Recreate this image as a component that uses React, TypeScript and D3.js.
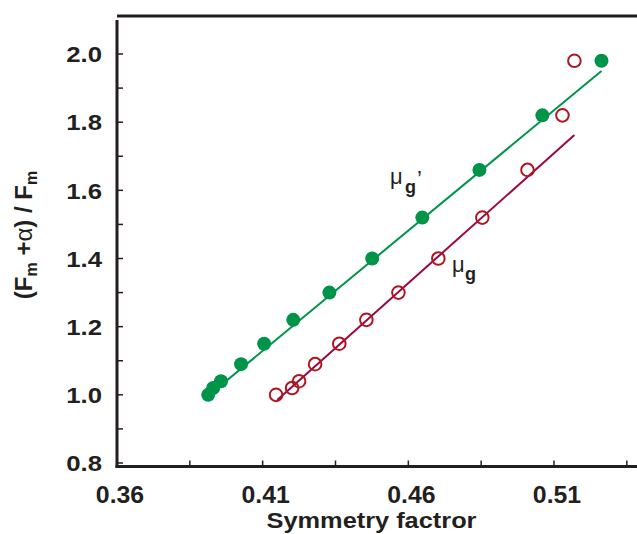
import React from "react";
import * as d3 from "d3";

// Symmetry factor vs. (Fm + α) / Fm for the two mobility estimates
const muGPrimeX = [0.3913, 0.393, 0.3957, 0.4026, 0.4105, 0.4205, 0.4329, 0.4476, 0.4648, 0.4844, 0.506, 0.5263];
const muGPrimeY = [1.0, 1.02, 1.04, 1.09, 1.15, 1.22, 1.3, 1.4, 1.52, 1.66, 1.82, 1.98];
const muGX = [0.4146, 0.4201, 0.4225, 0.428, 0.4363, 0.4456, 0.4566, 0.4703, 0.4854, 0.5009, 0.5129, 0.517];
const muGY = [1.0, 1.02, 1.04, 1.09, 1.15, 1.22, 1.3, 1.4, 1.52, 1.66, 1.82, 1.98];

// Linear fits (start and end points)
const muGPrimeFit: [number, number][] = [
  [0.391, 0.995],
  [0.5263, 1.95],
];
const muGFit: [number, number][] = [
  [0.415, 0.985],
  [0.517, 1.762],
];

const xMajorTicks = [0.36, 0.41, 0.46, 0.51];
const xMinorTicks = [0.385, 0.435, 0.485, 0.535];
const yMajorTicks = [0.8, 1.0, 1.2, 1.4, 1.6, 1.8, 2.0];
const yMinorTicks = [0.9, 1.1, 1.3, 1.5, 1.7, 1.9];

const W = 637;
const H = 534;
const left = 117;
const right = 637;
const top = 16;
const bottom = 466.5;

const GREEN = "#00944a";
const RED_MARK = "#b0161e";
const RED_LINE = "#9a0846";
const INK = "#231f20";
const FONT = "'Liberation Sans', Arial, Helvetica, sans-serif";

export default function App() {
  const x = d3.scaleLinear().domain([0.36, 0.51]).range([117, 554]);
  const y = d3.scaleLinear().domain([0.8, 2.0]).range([463, 54]);
  const line = d3
    .line<[number, number]>()
    .x((d) => x(d[0]))
    .y((d) => y(d[1]));

  return (
    <svg
      width={W}
      height={H}
      viewBox={`0 0 ${W} ${H}`}
      style={{ position: "absolute", left: 0, top: 0, background: "#fff" }}
      fontFamily={FONT}
    >
      {/* frame */}
      <line x1={left} x2={right} y1={top} y2={top} stroke={INK} strokeWidth={3} />
      <line x1={left} x2={left} y1={top + 4} y2={bottom + 1.5} stroke={INK} strokeWidth={3} />
      <line x1={left - 1.5} x2={right} y1={bottom} y2={bottom} stroke={INK} strokeWidth={3} />

      {/* y ticks */}
      {yMajorTicks.concat(yMinorTicks).map((t) => (
        <line key={"yt" + t} x1={left} x2={left + 6} y1={y(t)} y2={y(t)} stroke={INK} strokeWidth={1.5} />
      ))}
      {yMajorTicks.map((t) => (
        <g key={"yl" + t} transform={`translate(102,${y(t)}) scale(1.12,1)`}>
          <text dy="0.36em" textAnchor="end" fontSize={23} fontWeight="bold" fill={INK}>
            {t.toFixed(1)}
          </text>
        </g>
      ))}

      {/* x ticks */}
      {xMajorTicks.concat(xMinorTicks).map((t) => (
        <line key={"xt" + t} x1={x(t)} x2={x(t)} y1={bottom} y2={bottom - 6} stroke={INK} strokeWidth={1.5} />
      ))}
      {xMajorTicks.map((t) => (
        <g key={"xl" + t} transform={`translate(${x(t) + 3},503) scale(1.08,1)`}>
          <text textAnchor="middle" fontSize={23} fontWeight="bold" fill={INK}>
            {t.toFixed(2)}
          </text>
        </g>
      ))}

      {/* axis titles */}
      <g transform="translate(371.5,528) scale(1.18,1)">
        <text textAnchor="middle" fontSize={21.5} fontWeight="bold" fill={INK}>
          Symmetry factror
        </text>
      </g>
      <g transform="translate(32,235) rotate(-90)">
        <text textAnchor="middle" fontSize={24} fontWeight="bold" fill={INK}>
          (F
          <tspan fontSize={16} dy={5}>m</tspan>
          <tspan dy={-5}> +</tspan>
          <tspan fontWeight="normal">α</tspan>) / F
          <tspan fontSize={16} dy={5}>m</tspan>
        </text>
      </g>

      {/* fit lines */}
      <path d={line(muGPrimeFit) ?? ""} fill="none" stroke={GREEN} strokeWidth={2} />
      <path d={line(muGFit) ?? ""} fill="none" stroke={RED_LINE} strokeWidth={2} />

      {/* μg' : filled circles */}
      {muGPrimeX.map((v, i) => (
        <circle key={"g" + i} cx={x(v)} cy={y(muGPrimeY[i])} r={7} fill={GREEN} />
      ))}
      {/* μg : open circles */}
      {muGX.map((v, i) => (
        <circle
          key={"r" + i}
          cx={x(v)}
          cy={y(muGY[i])}
          r={6.3}
          fill="none"
          stroke={RED_MARK}
          strokeWidth={2}
        />
      ))}

      {/* series labels */}
      <text x={390} y={184} fontSize={22} fill={INK}>
        μ
      </text>
      <text x={405} y={193} fontSize={18} fontWeight="bold" fill={INK}>
        g
      </text>
      <text x={417} y={186} fontSize={22} fill={INK}>
        ’
      </text>

      <text x={452} y={272} fontSize={22} fill={INK}>
        μ
      </text>
      <text x={465} y={280} fontSize={18} fontWeight="bold" fill={INK}>
        g
      </text>
    </svg>
  );
}
